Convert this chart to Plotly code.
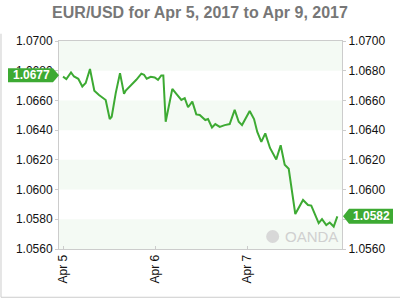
import plotly.graph_objects as go

title_text = "EUR/USD for Apr 5, 2017 to Apr 9, 2017"

times = [
    "2017-04-05 00:00", "2017-04-05 00:52", "2017-04-05 02:05", "2017-04-05 02:52",
    "2017-04-05 03:59", "2017-04-05 05:02", "2017-04-05 05:55", "2017-04-05 07:02",
    "2017-04-05 08:10", "2017-04-05 09:23", "2017-04-05 11:08", "2017-04-05 12:11",
    "2017-04-05 12:42", "2017-04-05 13:45", "2017-04-05 14:52", "2017-04-05 15:55",
    "2017-04-05 16:22", "2017-04-05 17:40", "2017-04-05 19:07", "2017-04-05 20:26",
    "2017-04-05 21:08", "2017-04-05 21:50", "2017-04-05 22:53", "2017-04-05 23:55",
    "2017-04-06 00:47", "2017-04-06 01:38", "2017-04-06 02:10", "2017-04-06 02:47",
    "2017-04-06 03:34", "2017-04-06 04:31", "2017-04-06 05:34", "2017-04-06 06:52",
    "2017-04-06 07:45", "2017-04-06 08:37", "2017-04-06 09:44", "2017-04-06 10:46",
    "2017-04-06 11:40", "2017-04-06 12:16", "2017-04-06 13:07", "2017-04-06 13:50",
    "2017-04-06 14:52", "2017-04-06 15:44", "2017-04-06 16:53", "2017-04-06 18:11",
    "2017-04-06 19:29", "2017-04-06 20:47", "2017-04-06 21:50", "2017-04-06 22:42",
    "2017-04-07 00:42", "2017-04-07 01:50", "2017-04-07 02:41", "2017-04-07 03:44",
    "2017-04-07 04:46", "2017-04-07 06:00", "2017-04-07 06:31", "2017-04-07 07:38",
    "2017-04-07 08:47", "2017-04-07 09:50", "2017-04-07 10:53", "2017-04-07 12:36",
    "2017-04-07 14:37", "2017-04-07 15:55", "2017-04-07 16:46", "2017-04-07 18:42",
    "2017-04-07 19:34", "2017-04-07 20:41", "2017-04-07 21:35", "2017-04-07 22:37",
    "2017-04-07 23:34",
]

rates = [
    1.06760, 1.06744, 1.06788, 1.06761,
    1.06746, 1.06694, 1.06717, 1.06812,
    1.06666, 1.06637, 1.06603, 1.06475,
    1.06490, 1.06649, 1.06784, 1.06644,
    1.06666, 1.06698, 1.06739, 1.06780,
    1.06773, 1.06746, 1.06759, 1.06755,
    1.06739, 1.06768, 1.06768, 1.06456,
    1.06569, 1.06678, 1.06644, 1.06603,
    1.06615, 1.06554, 1.06592, 1.06506,
    1.06502, 1.06490, 1.06468, 1.06475,
    1.06418, 1.06441, 1.06422, 1.06434,
    1.06441, 1.06536, 1.06456, 1.06434,
    1.06529, 1.06475, 1.06388, 1.06321,
    1.06378, 1.06280, 1.06253, 1.06203,
    1.06298, 1.06167, 1.06140, 1.05835,
    1.05930, 1.05896, 1.05892, 1.05774,
    1.05801, 1.05761, 1.05778, 1.05751,
    1.05820,
]

y_ticks = [1.0560, 1.0580, 1.0600, 1.0620, 1.0640, 1.0660, 1.0680, 1.0700]
band_ranges = [(1.0560, 1.0580), (1.0600, 1.0620), (1.0640, 1.0660), (1.0680, 1.0700)]
x_ticks = ["2017-04-05", "2017-04-06", "2017-04-07"]
x_tick_labels = ["Apr 5", "Apr 6", "Apr 7"]
open_label = 1.0677
close_label = 1.0582

GREEN = "#3daa33"
FRAME = "#cccccc"
FONT = "Liberation Sans, Arial, sans-serif"

fig = go.Figure()
fig.add_trace(go.Scatter(x=times, y=rates, mode="lines",
                         line=dict(color=GREEN, width=2), hoverinfo="skip"))
fig.add_trace(go.Scatter(x=times, y=rates, mode="lines", yaxis="y2",
                         line=dict(color=GREEN, width=0), opacity=0, hoverinfo="skip"))

shapes = []
for lo, hi in band_ranges:
    shapes.append(dict(type="rect", xref="paper", yref="y", x0=0, x1=1, y0=lo, y1=hi,
                       fillcolor="#f4faf4", line=dict(width=0), layer="below"))

# price label boxes (pixel-sized, anchored at value)
shapes.append(dict(type="path", xref="paper", yref="y", xsizemode="pixel", ysizemode="pixel",
                   xanchor=0, yanchor=open_label,
                   path="M -51,-7 L -6,-7 L 0,0 L -6,7 L -51,7 Z",
                   fillcolor=GREEN, line=dict(width=0)))
shapes.append(dict(type="path", xref="paper", yref="y", xsizemode="pixel", ysizemode="pixel",
                   xanchor=1, yanchor=close_label,
                   path="M 1,0 L 7,-7.5 L 51,-7.5 L 51,7.5 L 7,7.5 Z",
                   fillcolor=GREEN, line=dict(width=0)))
# outer frame (left + bottom)
shapes.append(dict(type="line", xref="paper", yref="paper", x0=-0.205, x1=-0.205,
                   y0=-0.232, y1=1.035, line=dict(color=FRAME, width=1)))
shapes.append(dict(type="line", xref="paper", yref="paper", x0=-0.205, x1=1.3,
                   y0=-0.232, y1=-0.232, line=dict(color=FRAME, width=1)))
# OANDA logo circle
shapes.append(dict(type="circle", xref="paper", yref="paper", xsizemode="pixel", ysizemode="pixel",
                   xanchor=0.755, yanchor=0.06, x0=-6.5, x1=6.5, y0=-6.5, y1=6.5,
                   fillcolor="#d8d8d8", line=dict(width=0)))

annotations = [
    dict(text="<b>%.4f</b>" % open_label, xref="paper", yref="y", x=0, y=open_label,
         xanchor="center", yanchor="middle", xshift=-28, showarrow=False,
         font=dict(family=FONT, size=12, color="white")),
    dict(text="<b>%.4f</b>" % close_label, xref="paper", yref="y", x=1, y=close_label,
         xanchor="center", yanchor="middle", xshift=29, showarrow=False,
         font=dict(family=FONT, size=12, color="white")),
    dict(text="OANDA", xref="paper", yref="paper", x=0.79, y=0.06,
         xanchor="left", yanchor="middle", showarrow=False,
         font=dict(family=FONT, size=15, color="#d0d0d0")),
]

axis_common = dict(range=[1.0560, 1.0700], tickvals=y_ticks, tickformat=".4f",
                   showgrid=False, zeroline=False, showline=True, linecolor=FRAME,
                   ticks="outside", ticklen=3, tickcolor=FRAME,
                   tickfont=dict(family=FONT, size=12, color="#111"))

fig.update_layout(
    width=400, height=300,
    margin=dict(l=59, r=58, t=41, b=51, pad=0),
    paper_bgcolor="white", plot_bgcolor="white",
    showlegend=False,
    title=dict(text="<b>%s</b>" % title_text, x=0.5, xanchor="center", y=0.96, yanchor="middle",
               font=dict(family=FONT, size=16, color="#777777")),
    xaxis=dict(range=["2017-04-04 22:57", "2017-04-08 00:47"], tickvals=x_ticks,
               ticktext=x_tick_labels, tickangle=-90, showgrid=False, zeroline=False,
               showline=True, linecolor=FRAME, mirror=True, ticks="inside", ticklen=3,
               tickcolor=FRAME, tickfont=dict(family=FONT, size=12, color="#111")),
    yaxis=dict(side="left", **axis_common),
    yaxis2=dict(side="right", overlaying="y", **axis_common),
    shapes=shapes,
    annotations=annotations,
)

fig.write_html("out.html")
